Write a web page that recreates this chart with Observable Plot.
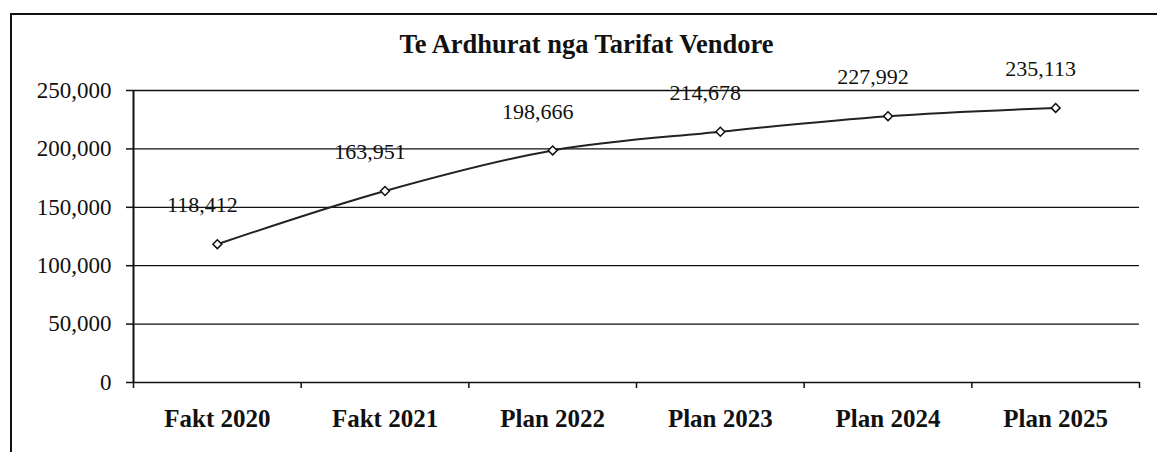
<!DOCTYPE html>
<html>
<head>
<meta charset="utf-8">
<script src="https://cdn.jsdelivr.net/npm/d3@7"></script>
<script src="https://cdn.jsdelivr.net/npm/@observablehq/plot@0.6"></script>
<style>
  html, body { margin: 0; padding: 0; background: #fff; }
  #wrap { position: relative; width: 1157px; height: 452px; overflow: hidden; }
  #frame { position: absolute; left: 10px; top: 13px; width: 1200px; height: 500px;
           border-left: 2px solid #111; border-top: 2px solid #111; pointer-events: none; }
</style>
</head>
<body>
<div id="wrap"><div id="frame"></div></div>
<script>
const title = "Te Ardhurat nga Tarifat Vendore";
const categories = ["Fakt 2020", "Fakt 2021", "Plan 2022", "Plan 2023", "Plan 2024", "Plan 2025"];
const values = [118412, 163951, 198666, 214678, 227992, 235113];
const yTicks = [0, 50000, 100000, 150000, 200000, 250000];

const data = categories.map((c, i) => ({i, c, v: values[i]}));
const fmt = d3.format(",");
const boundaries = d3.range(categories.length + 1).map(k => k - 0.5);
const centers = d3.range(categories.length);

const chart = Plot.plot({
  width: 1157,
  height: 452,
  marginLeft: 133,
  marginRight: 18,
  marginTop: 90,
  marginBottom: 70,
  style: {fontFamily: "'Liberation Serif', 'Times New Roman', serif", background: "white", color: "#111"},
  x: {type: "linear", domain: [-0.5, categories.length - 0.5], axis: null},
  y: {domain: [0, 250000], axis: null},
  marks: [
    Plot.ruleY(yTicks, {stroke: "#111", strokeWidth: 1.3}),
    Plot.ruleX([-0.5], {y1: 0, y2: 250000, stroke: "#111", strokeWidth: 2}),
    Plot.axisY({ticks: yTicks, tickSize: 7, tickPadding: 15, tickFormat: fmt, fontSize: 23,
                label: null, stroke: "#111", strokeWidth: 1.5}),
    Plot.axisX({ticks: boundaries, tickSize: 6, tickFormat: () => "", label: null,
                stroke: "#111", strokeWidth: 1.5}),
    Plot.axisX({ticks: centers, tickSize: 0, tickPadding: 27, tickFormat: i => categories[i],
                label: null, fontSize: 25, fontWeight: "bold"}),
    Plot.line(data, {x: "i", y: "v", curve: "monotone-x", stroke: "#222", strokeWidth: 2}),
    Plot.dot(data, {x: "i", y: "v", symbol: "diamond2", r: 4, stroke: "#111", fill: "white", strokeWidth: 1.5}),
    Plot.text(data, {x: "i", y: "v", text: d => fmt(d.v), dx: -15, dy: -39, fontSize: 22, fill: "#111"}),
    Plot.text([title], {frameAnchor: "top", lineAnchor: "middle", dy: -46, dx: -50,
                        fontSize: 26.5, fontWeight: "bold", fill: "#111"})
  ]
});

document.getElementById("wrap").prepend(chart);
</script>
</body>
</html>
